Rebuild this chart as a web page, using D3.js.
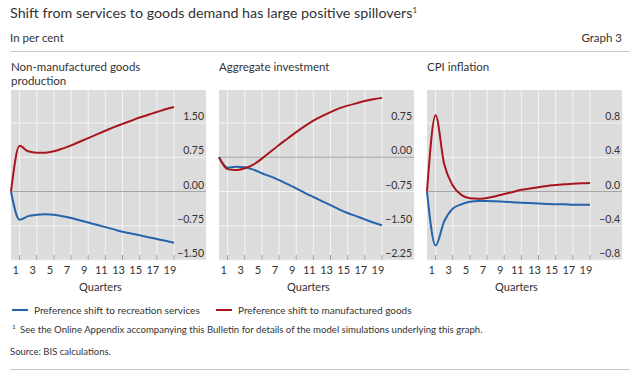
<!DOCTYPE html>
<html>
<head>
<meta charset="utf-8">
<script src="https://cdn.jsdelivr.net/npm/d3@7"></script>
<style>
  body { margin: 0; background: #fff; }
  svg text { font-family: Lato, "Open Sans", sans-serif; fill: #333; }
</style>
</head>
<body>
<div id="chart"></div>
<script>
(function () {

  // data
  var quarters = d3.range(0, 20)
  var tickQuarters = [1, 3, 5, 7, 9, 11, 13, 15, 17, 19]

  var panelTitles = [["Non-manufactured goods", "production"], ["Aggregate investment"], ["CPI inflation"]]

  var yTicks1 = [-1.5, -0.75, 0, 0.75, 1.5]
  var yTicks2 = [-2.25, -1.5, -0.75, 0, 0.75]
  var yTicks3 = [-0.8, -0.4, 0, 0.4, 0.8]

  var recreation1 = [0, -0.62, -0.54, -0.51, -0.50, -0.51, -0.54, -0.58, -0.63, -0.68, -0.73, -0.78, -0.83, -0.88, -0.92, -0.96, -1.00, -1.04, -1.08, -1.12]
  var manufactured1 = [0, 1.00, 0.88, 0.85, 0.85, 0.88, 0.94, 1.01, 1.09, 1.17, 1.25, 1.33, 1.41, 1.48, 1.55, 1.62, 1.68, 1.74, 1.80, 1.85]

  var recreation2 = [0, -0.23, -0.21, -0.22, -0.27, -0.35, -0.42, -0.50, -0.59, -0.68, -0.78, -0.87, -0.96, -1.05, -1.14, -1.22, -1.29, -1.36, -1.43, -1.49]
  var manufactured2 = [0, -0.26, -0.28, -0.24, -0.16, -0.03, 0.12, 0.27, 0.41, 0.55, 0.68, 0.80, 0.90, 0.99, 1.07, 1.13, 1.18, 1.23, 1.27, 1.30]

  var recreation3 = [0, -0.63, -0.35, -0.20, -0.15, -0.12, -0.11, -0.11, -0.115, -0.12, -0.125, -0.13, -0.135, -0.14, -0.145, -0.15, -0.15, -0.155, -0.155, -0.155]
  var manufactured3 = [0, 0.89, 0.32, 0.07, -0.04, -0.08, -0.085, -0.075, -0.055, -0.03, -0.005, 0.02, 0.035, 0.05, 0.065, 0.075, 0.085, 0.09, 0.095, 0.10]

  var seriesNames = ["Preference shift to recreation services", "Preference shift to manufactured goods"]
  var colors = ["#2563ab", "#a8161c"]

  var panels = [
    { left: 11, title: panelTitles[0], ticks: yTicks1, series: [recreation1, manufactured1] },
    { left: 219, title: panelTitles[1], ticks: yTicks2, series: [recreation2, manufactured2] },
    { left: 427, title: panelTitles[2], ticks: yTicks3, series: [recreation3, manufactured3] }
  ]

  var width = 640, height = 380
  var plotTop = 90, plotH = 170, plotW = 195, dataW = 163, tickSpan = 137

  var svg = d3.select("#chart")
    .append("svg")
    .attr("width", width)
    .attr("height", height)

  // header
  var title = svg.append("text")
    .attr("x", 10)
    .attr("y", 18)
    .attr("font-size", "14.3px")
    .text("Shift from services to goods demand has large positive spillovers")
  title.append("tspan")
    .attr("dy", -5)
    .attr("font-size", "8px")
    .text("1")

  svg.append("text")
    .attr("x", 10)
    .attr("y", 42)
    .attr("font-size", "11.5px")
    .text("In per cent")

  svg.append("text")
    .attr("x", 622)
    .attr("y", 42)
    .attr("text-anchor", "end")
    .attr("font-size", "11.5px")
    .text("Graph 3")

  svg.append("line")
    .attr("x1", 10).attr("x2", 630)
    .attr("y1", 51.5).attr("y2", 51.5)
    .attr("stroke", "#c8c8c8")

  var xPositionScale = d3.scaleLinear()
    .domain([0, 19])
    .range([0, dataW])

  panels.forEach(function (p) {
    var lo = p.ticks[0], hi = p.ticks[p.ticks.length - 1]
    var top = lo + (hi - lo) * plotH / tickSpan

    var yPositionScale = d3.scaleLinear()
      .domain([lo, top])
      .range([plotH, 0])

    var g = svg.append("g")
      .attr("transform", "translate(" + p.left + "," + plotTop + ")")

    // panel title
    p.title.forEach(function (t, i) {
      svg.append("text")
        .attr("x", p.left)
        .attr("y", 71 + i * 14)
        .attr("font-size", "11.5px")
        .text(t)
    })

    g.append("rect")
      .attr("width", plotW)
      .attr("height", plotH)
      .attr("fill", "#dcdcdc")

    // vertical grid
    g.selectAll(".vgrid")
      .data(tickQuarters)
      .enter().append("line")
      .attr("class", "vgrid")
      .attr("x1", function (d) { return xPositionScale(d) })
      .attr("x2", function (d) { return xPositionScale(d) })
      .attr("y1", 0)
      .attr("y2", plotH)
      .attr("stroke", "#f4f4f4")
      .attr("stroke-width", 1)

    // horizontal grid
    g.selectAll(".hgrid")
      .data(p.ticks)
      .enter().append("line")
      .attr("class", "hgrid")
      .attr("x1", 0)
      .attr("x2", plotW)
      .attr("y1", function (d) { return yPositionScale(d) })
      .attr("y2", function (d) { return yPositionScale(d) })
      .attr("stroke", function (d) { return d === 0 ? "#a6a6a6" : "#f4f4f4" })
      .attr("stroke-width", 1.2)

    // bottom tick marks
    g.selectAll(".xtick")
      .data(tickQuarters)
      .enter().append("line")
      .attr("class", "xtick")
      .attr("x1", function (d) { return xPositionScale(d) })
      .attr("x2", function (d) { return xPositionScale(d) })
      .attr("y1", plotH - 5)
      .attr("y2", plotH)
      .attr("stroke", "#a0a0a0")

    // y labels, inside the grey on the right
    g.selectAll(".ylabel")
      .data(p.ticks)
      .enter().append("text")
      .attr("class", "ylabel")
      .attr("x", plotW - 2)
      .attr("y", function (d) { return yPositionScale(d) - 3 })
      .attr("text-anchor", "end")
      .attr("font-size", "10.5px")
      .text(function (d) {
        var s = d3.format(lo === -0.8 ? ".1f" : ".2f")(Math.abs(d))
        return d < 0 ? "\u2212" + s : s
      })

    // x labels
    g.selectAll(".xlabel")
      .data(tickQuarters)
      .enter().append("text")
      .attr("class", "xlabel")
      .attr("x", function (d) { return xPositionScale(d) - 4 })
      .attr("y", plotH + 14)
      .attr("text-anchor", "middle")
      .attr("font-size", "11px")
      .text(function (d) { return d })

    g.append("text")
      .attr("x", plotW / 2 - 8)
      .attr("y", plotH + 31)
      .attr("text-anchor", "middle")
      .attr("font-size", "11px")
      .text("Quarters")

    var line = d3.line()
      .x(function (d, i) { return xPositionScale(quarters[i]) })
      .y(function (d) { return yPositionScale(d) })
      .curve(d3.curveMonotoneX)

    p.series.forEach(function (s, k) {
      g.append("path")
        .datum(s)
        .attr("d", line)
        .attr("fill", "none")
        .attr("stroke", colors[k])
        .attr("stroke-width", 2)
    })
  })

  // legend
  var legendX = [12, 216]
  seriesNames.forEach(function (name, k) {
    svg.append("line")
      .attr("x1", legendX[k]).attr("x2", legendX[k] + 16)
      .attr("y1", 310).attr("y2", 310)
      .attr("stroke", colors[k])
      .attr("stroke-width", 2)
    svg.append("text")
      .attr("x", legendX[k] + 22)
      .attr("y", 313.5)
      .attr("font-size", "10px")
      .text(name)
  })

  // footnotes
  svg.append("text")
    .attr("x", 12)
    .attr("y", 329)
    .attr("font-size", "6.5px")
    .text("1")
  svg.append("text")
    .attr("x", 20)
    .attr("y", 333)
    .attr("font-size", "9.6px")
    .text("See the Online Appendix accompanying this Bulletin for details of the model simulations underlying this graph.")

  svg.append("text")
    .attr("x", 10)
    .attr("y", 355)
    .attr("font-size", "9.5px")
    .text("Source: BIS calculations.")

  svg.append("line")
    .attr("x1", 10).attr("x2", 630)
    .attr("y1", 369.5).attr("y2", 369.5)
    .attr("stroke", "#c8c8c8")

})()
</script>
</body>
</html>
